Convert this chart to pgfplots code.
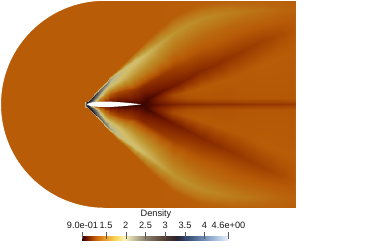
\documentclass[border=0pt]{standalone}
\usepackage{pgfplots}
\usepackage{pgfplotstable}
\pgfplotsset{compat=1.18}
\usepackage{fontspec}
\setmainfont{Liberation Sans}
\pgfplotsset{
 colormap={field}{rgb255(0pt)=(45,0,0) rgb255(10pt)=(115,25,0) rgb255(20pt)=(150,55,0) rgb255(30pt)=(180,88,6) rgb255(32pt)=(184,92,8) rgb255(45pt)=(188,120,25) rgb255(60pt)=(190,145,45) rgb255(85pt)=(210,190,105) rgb255(110pt)=(190,185,140) rgb255(130pt)=(150,145,120) rgb255(160pt)=(120,115,105) rgb255(210pt)=(70,65,65) rgb255(240pt)=(30,30,40) rgb255(260pt)=(50,70,110) rgb255(310pt)=(120,150,190) rgb255(370pt)=(235,240,250)},
 colormap={barmap}{rgb255(0pt)=(55,0,0) rgb255(8pt)=(90,15,0) rgb255(20pt)=(150,50,0) rgb255(35pt)=(200,100,10) rgb255(60pt)=(235,160,40) rgb255(85pt)=(250,215,90) rgb255(110pt)=(250,245,190) rgb255(130pt)=(200,195,160) rgb255(160pt)=(140,130,110) rgb255(210pt)=(80,60,50) rgb255(240pt)=(40,35,45) rgb255(260pt)=(45,65,105) rgb255(310pt)=(115,145,185) rgb255(350pt)=(190,210,235) rgb255(370pt)=(235,240,250)},
}
\pgfplotstableread{
x y v
1 104 1.22
1 103.5 1.22
1 103 1.22
1 102 1.22
1 101 1.22
1 100 1.22
1 90 1.22
1 70 1.22
1 40 1.22
1 0.5 1.22
50 104 1.22
50 103.5 1.22
50 103 1.22
50 102 1.22
50 101 1.22
50 100 1.22
50 90 1.22
50 70 1.22
50 40 1.22
50 0.5 1.22
84 104 1.22
84 103.8 1.22
84 103.6 1.22
84 103.4 1.22
84 103.2 1.22
84 103 1.22
84 102.5 1.22
84 102 1.22
84 101.5 1.22
84 0.5 1.22
87 104 3.8
87 103.8 3.8
87 103.6 3.8
87 103.4 3.7
87 103.2 3.6
87 103 3.5
87 102.5 3.4
87 102 3.3
87 100.5 1.22
87 0.5 1.22
89 104 3
89 103.8 3
89 103.6 3
89 103.4 3
89 103.2 3
89 102.6 3.3
89 101.7 3.4
89 100.5 3.3
89 99 1.22
89 0.5 1.22
91 104 2
91 103.7 2
91 103.3 2
91 102.9 2
91 102.5 2
91 101.3 2.6
91 100 3.2
91 98.5 3.4
91 96.5 1.22
91 0.5 1.22
95 104 1.4
95 103.5 1.4
95 103 1.4
95 102.4 1.4
95 101.8 1.4
95 100.4 1.9
95 98 2.6
95 94.5 3.1
95 92 1.22
95 0.5 1.22
100 104 1.1
100 103.5 1.1
100 103 1.1
100 102 1.1
100 101.4 1.1
100 98 1.5
100 94.5 2
100 90 2.7
100 87 1.22
100 0.5 1.22
105 104 1
105 103.5 1
105 103 1
105 102 1
105 101.2 1
105 95.5 1.35
105 89.5 1.8
105 84.5 2.45
105 81.5 1.22
105 0.5 1.22
110 104 0.97
110 103.5 0.97
110 103 0.97
110 102 0.97
110 101.3 0.97
110 94 1.2
110 86 1.75
110 79 2.15
110 76 1.22
110 0.5 1.22
118 104 0.95
118 103.5 0.95
118 103 0.95
118 102.4 0.95
118 101.8 0.95
118 92 1.15
118 82 1.7
118 73 1.95
118 68.5 1.22
118 0.5 1.22
125 104 0.93
125 103.7 0.93
125 103.2 0.93
125 102.8 0.93
125 102.3 0.93
125 90 1.15
125 78 1.65
125 68 1.85
125 62 1.22
125 0.5 1.22
135 104 0.92
135 103.9 0.92
135 103.7 0.92
135 103.5 0.92
135 103.3 0.92
135 90 1.08
135 73 1.55
135 61 1.8
135 52 1.22
135 0.5 1.22
141 104 0.92
141 103.8 0.92
141 103.6 0.92
141 103.4 0.92
141 103.2 0.92
141 88 1.05
141 70 1.5
141 57 1.75
141 46 1.22
141 0.5 1.22
147 104 0.93
147 103 0.93
147 102 0.93
147 100 0.93
147 99 0.93
147 84 1.07
147 66 1.48
147 53 1.7
147 40 1.22
147 0.5 1.22
160 104 0.98
160 102.5 1
160 100 1.03
160 97 1.03
160 92 0.97
160 76 1.1
160 57 1.42
160 43 1.6
160 28 1.22
160 0.5 1.22
173 104 1.03
173 102 1.07
173 98 1.14
173 95 1.16
173 85.5 1
173 68 1.13
173 47 1.36
173 33 1.52
173 17 1.23
173 0.5 1.22
187 104 1.06
187 102 1.11
187 98 1.18
187 92 1.2
187 78.5 1.03
187 62 1.15
187 41 1.32
187 25 1.49
187 10 1.23
187 0.5 1.22
200 104 1.07
200 102 1.12
200 98 1.19
200 88 1.21
200 71 1.05
200 55 1.16
200 34 1.31
200 19 1.46
200 5 1.24
200 0.5 1.22
215 104 1.08
215 102 1.13
215 98 1.19
215 83 1.21
215 64.5 1.07
215 50 1.17
215 30 1.29
215 15 1.43
215 3 1.25
215 0.5 1.23
230 104 1.08
230 102 1.13
230 98 1.19
230 78 1.21
230 57 1.09
230 44 1.17
230 26 1.27
230 12 1.39
230 2 1.26
230 0.5 1.23
245 104 1.09
245 102 1.14
245 98 1.2
245 72 1.21
245 50 1.11
245 38 1.17
245 23 1.26
245 11 1.35
245 2 1.26
245 0.5 1.24
263 104 1.1
263 102 1.14
263 98 1.2
263 64 1.22
263 41 1.13
263 31 1.18
263 20 1.25
263 10 1.31
263 2 1.26
263 0.5 1.24
280 104 1.1
280 102 1.14
280 98 1.2
280 56 1.22
280 34 1.16
280 26 1.19
280 18 1.23
280 10 1.27
280 2 1.25
280 0.5 1.24
293 104 1.11
293 102 1.15
293 98 1.2
293 51 1.22
293 29 1.19
293 23 1.2
293 16 1.22
293 10 1.25
293 2 1.23
293 0.5 1.23
296 104 1.14
296 102 1.17
296 98 1.24
296 51 1.25
296 29 1.23
296 23 1.24
296 16 1.25
296 10 1.27
296 2 1.25
296 0.5 1.25
}\field
\begin{document}
\begin{tikzpicture}
\useasboundingbox (0,0) rectangle (389pt,247pt);
\begin{axis}[hide axis, scale only axis, width=389pt, height=247pt,
  xmin=0, xmax=389, ymin=0, ymax=247, y dir=reverse,
  point meta min=0.9, point meta max=4.6, colormap name=field]
\addplot[surf, shader=interp, colormap name=field, mesh/cols=10, mesh/rows=26, point meta=explicit]
  table[x=x, y expr=\thisrow{y}+0.3, meta=v] {\field};
\addplot[surf, shader=interp, colormap name=field, mesh/cols=10, mesh/rows=26, point meta=explicit]
  table[x=x, y expr=208.3-\thisrow{y}, meta=v] {\field};
\fill[white] (axis cs:1,104.3) arc[start angle=180, end angle=90, radius=103.5pt] -- (axis cs:104.5,0) -- (axis cs:0,0) -- (axis cs:0,104.3) -- cycle;
\fill[white] (axis cs:1,104.3) arc[start angle=180, end angle=270, radius=103.5pt] -- (axis cs:104.5,209) -- (axis cs:0,209) -- (axis cs:0,104.3) -- cycle;
\addplot[fill=white, draw=none] coordinates {
 (87,104.3) (89,103.1) (91,102.6) (95,102.1) (100,101.7) (105,101.5) (110,101.6) (118,102.1) (125,102.6) (135,103.6) (141,104.3)
 (135,105) (125,106) (118,106.5) (110,107) (105,107.1) (100,106.9) (95,106.5) (91,106) (89,105.5) (87,104.3)};
\addplot[surf, shader=interp, colormap name=barmap, mesh/cols=2, mesh/rows=2, point meta=explicit]
  table[x=x, y=y, meta=v] {
x y v
82.3 236 0.9
228.3 236 4.6
82.3 240.5 0.9
228.3 240.5 4.6
};
\foreach \p in {82.3,106,125.7,145.3,165.3,185,204.5,228.3}{
  \edef\tmp{\noexpand\draw[gray!70!black, line width=0.3pt] (axis cs:\p,232) -- (axis cs:\p,239);}\tmp
}
\node[font=\fontsize{9.2}{10}\selectfont, text=black!90, inner sep=0] at (axis cs:156,214) {Density};
\foreach \p/\t in {82.5/9.0e-01,106/1.5,125.7/2,145.5/2.5,165.2/3,185/3.5,204.5/4,228.5/4.6e+00}{
  \edef\tmp{\noexpand\node[font=\noexpand\fontsize{9.2}{10}\noexpand\selectfont, text=black!90, inner sep=0] at (axis cs:\p,225) {\t};}\tmp
}
\end{axis}
\end{tikzpicture}
\end{document}
